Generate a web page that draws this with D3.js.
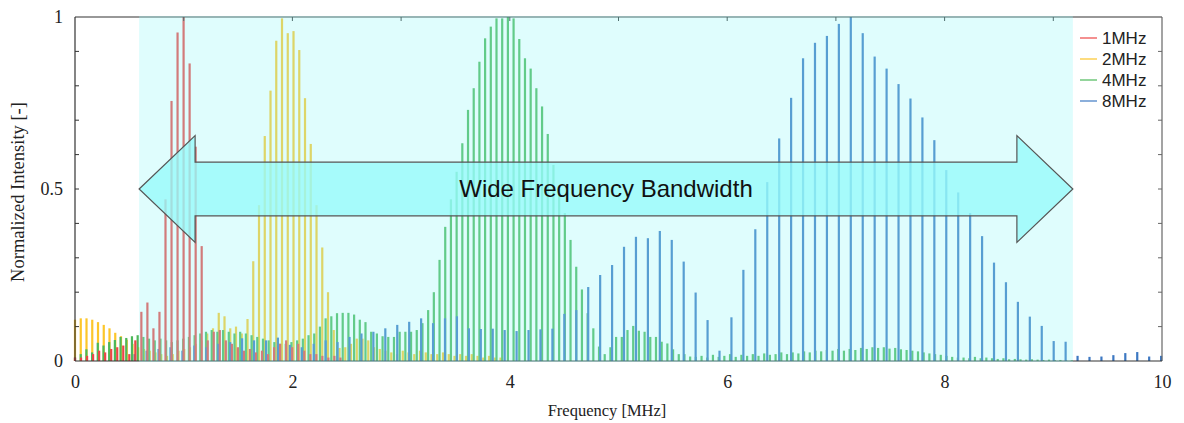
<!DOCTYPE html>
<html>
<head>
<meta charset="utf-8">
<script src="https://cdn.jsdelivr.net/npm/d3@7/dist/d3.min.js"></script>
<style>
  body { margin: 0; background: #fff; }
  svg { display: block; }
</style>
</head>
<body>
<svg id="chart" width="1184" height="423"></svg>
<script>
// Normalized spectra of four drive frequencies; each array holds the line
// intensities of one spectrum, the lines spaced by the matching step (MHz).
const seriesNames = ["1MHz", "2MHz", "4MHz", "8MHz"];
const seriesColors = ["#ec4646", "#fcc62a", "#4cb85a", "#3d78c2"];
const lineStep = [0.0555, 0.0529, 0.0524, 0.1098];

const spec1MHz = [
  0.01, 0.01, 0.015, 0.02, 0.03, 0.025, 0.035, 0.04, 0.045, 0.02, 0.06,
  0.143, 0.17, 0.095, 0.143, 0.47, 0.756, 0.955, 1.0, 0.865, 0.623, 0.334,
  0.06, 0.085, 0.09, 0.06, 0.05, 0.04, 0.03, 0.035, 0.025, 0.03, 0.02, 0.04,
  0.05, 0.06, 0.04, 0.05, 0.03, 0.02, 0.02, 0.015, 0.01, 0.015, 0.01
];

const spec2MHz = [
  0.12, 0.124, 0.124, 0.12, 0.113, 0.105, 0.095, 0.082, 0.072, 0.062, 0.05,
  0.04, 0.035, 0.03, 0.025, 0.02, 0.015, 0.02, 0.03, 0.035, 0.04, 0.05,
  0.06, 0.08, 0.095, 0.14, 0.13, 0.095, 0.1, 0.08, 0.122, 0.29, 0.453,
  0.654, 0.786, 0.931, 0.996, 0.953, 0.959, 0.904, 0.764, 0.631, 0.453,
  0.33, 0.2, 0.09, 0.038, 0.04, 0.05, 0.065, 0.065, 0.06, 0.04, 0.035,
  0.03, 0.025, 0.02, 0.03, 0.025, 0.02, 0.03, 0.025, 0.02, 0.02, 0.025,
  0.02, 0.015, 0.02, 0.015, 0.02, 0.015, 0.01, 0.015, 0.01, 0.01
];

const spec4MHz = [
  0.01, 0.02, 0.034, 0.025, 0.053, 0.045, 0.055, 0.061, 0.07, 0.067, 0.072,
  0.075, 0.07, 0.065, 0.06, 0.065, 0.06, 0.055, 0.06, 0.065, 0.07, 0.075,
  0.08, 0.085, 0.09, 0.085, 0.09, 0.085, 0.08, 0.085, 0.08, 0.075, 0.07,
  0.065, 0.06, 0.055, 0.05, 0.05, 0.055, 0.06, 0.065, 0.075, 0.08, 0.1,
  0.124, 0.13, 0.139, 0.14, 0.14, 0.135, 0.12, 0.113, 0.085, 0.08, 0.072,
  0.07, 0.07, 0.085, 0.085, 0.085, 0.09, 0.11,
  0.148, 0.2, 0.294, 0.39, 0.47, 0.55, 0.633, 0.73, 0.793, 0.87, 0.938,
  0.972, 0.996, 0.996, 1.0, 0.996, 0.936, 0.88, 0.85, 0.793, 0.74, 0.66,
  0.57, 0.5, 0.43, 0.352, 0.274, 0.208, 0.139, 0.095, 0.042,
  0.02, 0.04, 0.07, 0.07, 0.09, 0.102, 0.088, 0.085, 0.07, 0.07, 0.056,
  0.051, 0.034, 0.02, 0.02, 0.013,
  0.012, 0.015, 0.01, 0.018, 0.012, 0.015, 0.02, 0.012, 0.018, 0.015, 0.02,
  0.015, 0.022, 0.018, 0.02, 0.025, 0.02, 0.025, 0.022, 0.028, 0.025, 0.03,
  0.028, 0.032, 0.03, 0.035, 0.03,
  0.035, 0.032, 0.038, 0.035, 0.04, 0.038, 0.04, 0.036, 0.038, 0.034, 0.032,
  0.03, 0.028, 0.025, 0.022, 0.02, 0.018, 0.015, 0.012, 0.01,
  0.01, 0.008, 0.012, 0.008, 0.01, 0.008, 0.006, 0.008, 0.005, 0.006, 0.005,
  0.004, 0.005, 0.004, 0.003, 0.004, 0.003, 0.003, 0.002, 0.002
];

const spec8MHz = [
  0, 0, 0, 0, 0, 0.02, 0.03, 0.035, 0.04, 0.03, 0.045, 0.04, 0.05, 0.055,
  0.066, 0.06, 0.06, 0.068, 0.047, 0.04, 0.05, 0.06, 0.055, 0.07, 0.08,
  0.085, 0.095, 0.105, 0.114, 0.124, 0.11, 0.124, 0.13, 0.095, 0.093, 0.094,
  0.09, 0.087, 0.09, 0.092, 0.094, 0.137, 0.148, 0.215, 0.25, 0.279, 0.332,
  0.361, 0.357, 0.378, 0.352, 0.289, 0.199, 0.119, 0.03, 0.127, 0.265, 0.383,
  0.52, 0.647, 0.765, 0.88, 0.925, 0.945, 0.98, 1.0, 0.953, 0.885, 0.85,
  0.805, 0.763, 0.708, 0.642, 0.555, 0.49, 0.43, 0.363, 0.286, 0.229, 0.172,
  0.129, 0.102, 0.058, 0.056, 0.015, 0.012, 0.013, 0.017, 0.023, 0.026,
  0.013, 0.015
];

const spectra = [spec1MHz, spec2MHz, spec4MHz, spec8MHz];
const drawOrder = [1, 2, 3, 0];   // 2MHz, 4MHz, 8MHz underneath, 1MHz on top

const xTickValues = [0, 2, 4, 6, 8, 10];
const yTickValues = [0, 0.5, 1];
const bandRange = [0.59, 9.18];          // highlighted band, MHz
const bandLabel = "Wide Frequency Bandwidth";
const xTitle = "Frequency [MHz]";
const yTitle = "Normalized Intensity [-]";

const svg = d3.select("#chart");
const x = d3.scaleLinear().domain([0, 10]).range([75, 1162]);
const y = d3.scaleLinear().domain([0, 1]).range([361, 17]);

const serif = "'Liberation Serif', 'Times New Roman', serif";
const sans = "'Liberation Sans', Arial, sans-serif";

// spectral lines
const barW = 2.2;
drawOrder.forEach(si => {
  const pts = spectra[si].map((v, i) => ({ f: i * lineStep[si], v }));
  svg.append("g")
    .selectAll("rect")
    .data(pts.filter(d => d.v > 0 && d.f <= 10))
    .join("rect")
    .attr("x", d => x(d.f) - barW / 2)
    .attr("y", d => y(d.v))
    .attr("width", barW)
    .attr("height", d => y(0) - y(d.v))
    .attr("fill", seriesColors[si]);
});

// frame
const frame = svg.append("g").attr("fill", "none").attr("stroke", "#333").attr("stroke-width", 1.2);
frame.append("line").attr("x1", x(0)).attr("x2", x(0)).attr("y1", y(0)).attr("y2", y(1));
frame.append("line").attr("x1", x(0)).attr("x2", x(10)).attr("y1", y(1)).attr("y2", y(1));
frame.append("line").attr("x1", x(10)).attr("x2", x(10)).attr("y1", y(0)).attr("y2", y(1)).attr("stroke", "#666");
frame.append("line").attr("x1", x(0)).attr("x2", x(10)).attr("y1", y(0)).attr("y2", y(0));

// inward ticks: every 0.1 on both vertical sides, every 1 MHz on top
const minorY = d3.range(1, 10).map(k => k / 10);
const tickG = svg.append("g").attr("stroke", "#333").attr("stroke-width", 1);
minorY.forEach(v => {
  tickG.append("line").attr("x1", x(0)).attr("x2", x(0) + 4).attr("y1", y(v)).attr("y2", y(v));
  tickG.append("line").attr("x1", x(10)).attr("x2", x(10) - 4).attr("y1", y(v)).attr("y2", y(v)).attr("stroke", "#666");
});
d3.range(1, 10).forEach(f => {
  tickG.append("line").attr("x1", x(f)).attr("x2", x(f)).attr("y1", y(1)).attr("y2", y(1) + 4);
});

// highlighted band laid over the spectra
svg.append("rect")
  .attr("x", x(bandRange[0]))
  .attr("y", y(1) - 1)
  .attr("width", x(bandRange[1]) - x(bandRange[0]))
  .attr("height", y(0) - y(1) + 2)
  .attr("fill", "rgb(150,250,250)")
  .attr("fill-opacity", 0.3);

// axis labels via d3 axes (labels only)
const xAxis = svg.append("g")
  .attr("transform", `translate(0,${y(0)})`)
  .call(d3.axisBottom(x).tickValues(xTickValues).tickSize(0).tickPadding(14).tickFormat(d3.format("d")));
xAxis.select(".domain").remove();
xAxis.selectAll("text").attr("font-family", serif).attr("font-size", 18).attr("fill", "#222");

const yAxis = svg.append("g")
  .attr("transform", `translate(${x(0)},0)`)
  .call(d3.axisLeft(y).tickValues(yTickValues).tickSize(0).tickPadding(12).tickFormat(d => d === 0.5 ? "0.5" : d3.format("d")(d)));
yAxis.select(".domain").remove();
yAxis.selectAll("text").attr("font-family", serif).attr("font-size", 18).attr("fill", "#222");

svg.append("text")
  .attr("x", 607)
  .attr("y", 416)
  .attr("text-anchor", "middle")
  .attr("font-family", serif)
  .attr("font-size", 16.5)
  .attr("fill", "#222")
  .text(xTitle);

svg.append("text")
  .attr("transform", `translate(24,${y(0.5) + 3}) rotate(-90)`)
  .attr("text-anchor", "middle")
  .attr("font-family", serif)
  .attr("font-size", 18.5)
  .attr("fill", "#222")
  .text(yTitle);

// double-headed band arrow
const headLen = 0.515, headHalf = 0.155, shaftHalf = 0.078, mid = 0.5;
const L = bandRange[0], R = bandRange[1];
const arrowPts = [
  [L, mid], [L + headLen, mid + headHalf], [L + headLen, mid + shaftHalf],
  [R - headLen, mid + shaftHalf], [R - headLen, mid + headHalf], [R, mid],
  [R - headLen, mid - headHalf], [R - headLen, mid - shaftHalf],
  [L + headLen, mid - shaftHalf], [L + headLen, mid - headHalf]
];
svg.append("path")
  .attr("d", d3.line().x(d => x(d[0])).y(d => y(d[1])).curve(d3.curveLinearClosed)(arrowPts))
  .attr("fill", "rgb(150,250,250)")
  .attr("fill-opacity", 0.78)
  .attr("stroke", "#555")
  .attr("stroke-width", 1.2)
  .attr("stroke-linejoin", "miter");

svg.append("text")
  .attr("x", (x(L) + x(R)) / 2)
  .attr("y", y(mid) + 8)
  .attr("text-anchor", "middle")
  .attr("font-family", sans)
  .attr("font-size", 24)
  .attr("fill", "#111")
  .text(bandLabel);

// legend
const legend = svg.append("g").attr("transform", "translate(1080,38)");
seriesNames.forEach((name, i) => {
  const g = legend.append("g").attr("transform", `translate(0,${i * 21})`);
  g.append("line").attr("x1", 0).attr("x2", 17).attr("y1", 0).attr("y2", 0)
    .attr("stroke", seriesColors[i]).attr("stroke-width", 1.6).attr("stroke-opacity", 0.75);
  g.append("text").attr("x", 22).attr("y", 6)
    .attr("font-family", sans).attr("font-size", 17).attr("fill", "#222")
    .text(name);
});
</script>
</body>
</html>
